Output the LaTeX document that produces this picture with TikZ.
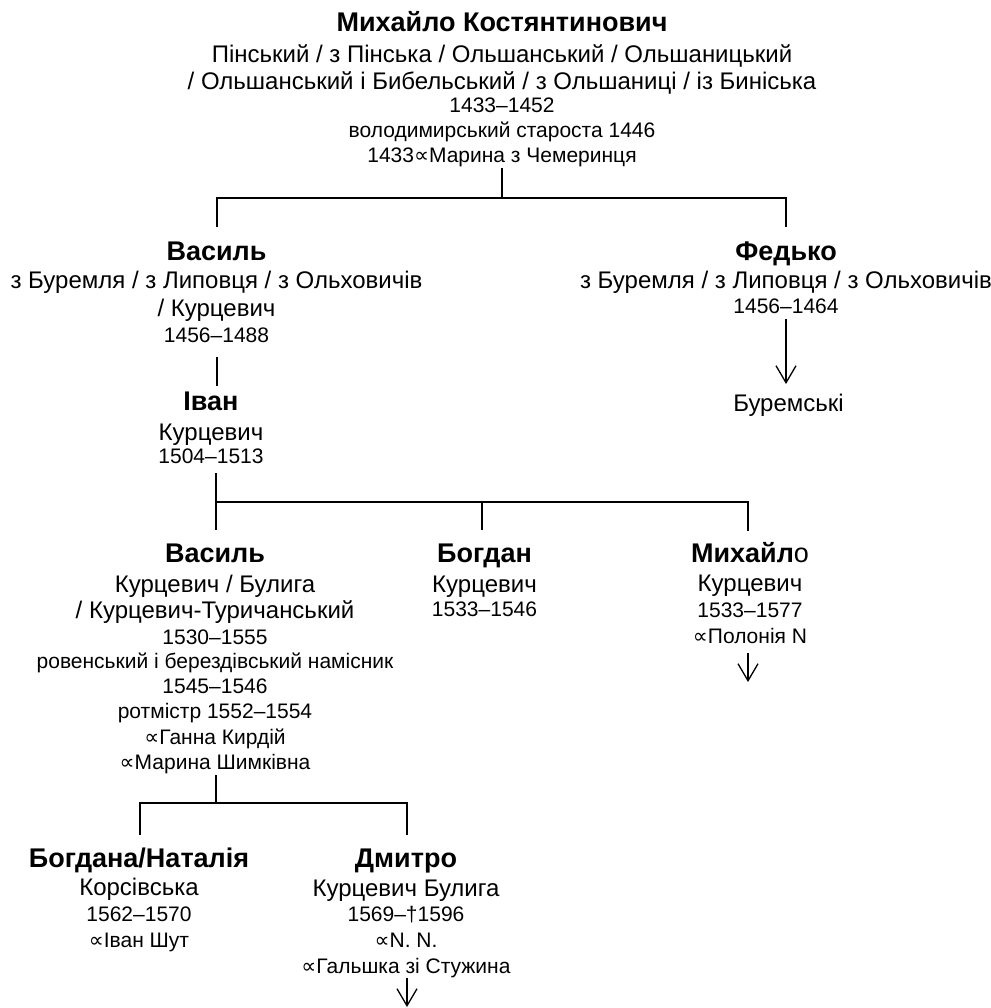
\documentclass[tikz,border=0pt]{standalone}
\usepackage{fontspec}
\setmainfont{Liberation Sans}
\newfontfamily\djv{DejaVu Sans}
\usetikzlibrary{arrows.meta}
\newcommand\marr{{\djv ∝}}
\tikzset{
  nm/.style={anchor=base, inner sep=0pt, font=\bfseries\fontsize{27}{30}\selectfont},
  nt/.style={anchor=base, inner sep=0pt, font=\fontsize{24}{28}\selectfont},
  sm/.style={anchor=base, inner sep=0pt, font=\fontsize{21}{24}\selectfont},
  link/.style={line width=2pt},
  desc/.style={line width=1.3pt, -{Straight Barb[length=17pt,width=20pt]}}
}
\begin{document}
\begin{tikzpicture}[x=1pt,y=-1pt]
\useasboundingbox (0,0) rectangle (990,1008);
% Top person
\node[nm] (mk)  at (502,32)  {Михайло Костянтинович};
\node[nt] (mk1) at (502,63)  {Пінський / з Пінська / Ольшанський / Ольшаницький};
\node[nt] (mk2) at (502,90)  {/ Ольшанський і Бибельський / з Ольшаниці / із Биніська};
\node[sm] (mk3) at (502,113) {1433–1452};
\node[sm] (mk4) at (502,138) {володимирський староста 1446};
\node[sm] (mk5) at (502,163) {1433\marr Марина з Чемеринця};
% Vasyl 1
\node[nm] (va)  at (216.5,260) {Василь};
\node[nt] (va1) at (216.5,288) {з Буремля / з Липовця / з Ольховичів};
\node[nt] (va2) at (216.5,316) {/ Курцевич};
\node[sm] (va3) at (216.5,342) {1456–1488};
% Fedko
\node[nm] (fe)  at (786,260) {Федько};
\node[nt] (fe1) at (786,288) {з Буремля / з Липовця / з Ольховичів};
\node[sm] (fe2) at (786,313) {1456–1464};
\node[nt] (bur) at (788.5,411) {Буремські};
% Ivan
\node[nm] (iv)  at (211,410) {Іван};
\node[nt] (iv1) at (211,440) {Курцевич};
\node[sm] (iv2) at (211,463) {1504–1513};
% Vasyl 2
\node[nm] (vb)  at (215,562) {Василь};
\node[nt] (vb1) at (215,592) {Курцевич / Булига};
\node[nt] (vb2) at (215,618) {/ Курцевич-Туричанський};
\node[sm] (vb3) at (215,644) {1530–1555};
\node[sm] (vb4) at (215,668) {ровенський і березд\-івський намісник};
\node[sm] (vb5) at (215,693) {1545–1546};
\node[sm] (vb6) at (215,718) {ротмістр 1552–1554};
\node[sm] (vb7) at (215,744) {\marr Ганна Кирдій};
\node[sm] (vb8) at (215,769) {\marr Марина Шимківна};
% Bohdan
\node[nm] (bo)  at (484.5,562) {Богдан};
\node[nt] (bo1) at (484.5,592) {Курцевич};
\node[sm] (bo2) at (484.5,616) {1533–1546};
% Mykhailo
\node[nm] (my)  at (750,562) {Михайл{\mdseries о}};
\node[nt] (my1) at (750,591) {Курцевич};
\node[sm] (my2) at (750,617) {1533–1577};
\node[sm] (my3) at (750,643) {\marr Полонія N};
% Bohdana
\node[nm] (bn)  at (139,867) {Богдана/Наталія};
\node[nt] (bn1) at (139,895) {Корсівська};
\node[sm] (bn2) at (139,921) {1562–1570};
\node[sm] (bn3) at (139,947) {\marr Іван Шут};
% Dmytro
\node[nm] (dm)  at (406,867) {Дмитро};
\node[nt] (dm1) at (406,896) {Курцевич Булига};
\node[sm] (dm2) at (406,921) {1569–†1596};
\node[sm] (dm3) at (406,947) {\marr N. N.};
\node[sm] (dm4) at (406,973) {\marr Гальшка зі Стужина};
% connector points
\coordinate (a0) at (502,168);
\coordinate (a1) at (502,198);
\coordinate (a2) at (216.5,198);
\coordinate (a3) at (216.5,227);
\coordinate (a4) at (786,198);
\coordinate (a5) at (786,227);
\coordinate (b0) at (216.5,357);
\coordinate (b1) at (216.5,386);
\coordinate (c0) at (216,473);
\coordinate (c1) at (216,530);
\coordinate (c2) at (216,502);
\coordinate (c3) at (748,502);
\coordinate (c4) at (748,531);
\coordinate (c5) at (482,502);
\coordinate (c6) at (482,530);
\coordinate (d0) at (216,775);
\coordinate (d1) at (216,803);
\coordinate (d2) at (140,803);
\coordinate (d3) at (140,835);
\coordinate (d4) at (407,803);
\coordinate (d5) at (407,835);
\coordinate (f0) at (786,319);
\coordinate (f1) at (786,384);
\coordinate (g0) at (748,653);
\coordinate (g1) at (748,682);
\coordinate (h0) at (407,978);
\coordinate (h1) at (407,1007);
% connectors
\draw[link] (a0) -- (a1);
\draw[link] (a3) -- (a2) -- (a4) -- (a5);
\draw[link] (b0) -- (b1);
\draw[link] (c0) -- (c1);
\draw[link] (c2) -- (c3) -- (c4);
\draw[link] (c5) -- (c6);
\draw[link] (d0) -- (d1);
\draw[link] (d3) -- (d2) -- (d4) -- (d5);
\draw[desc] (f0) -- (f1);
\draw[desc] (g0) -- (g1);
\draw[desc] (h0) -- (h1);
\end{tikzpicture}
\end{document}
